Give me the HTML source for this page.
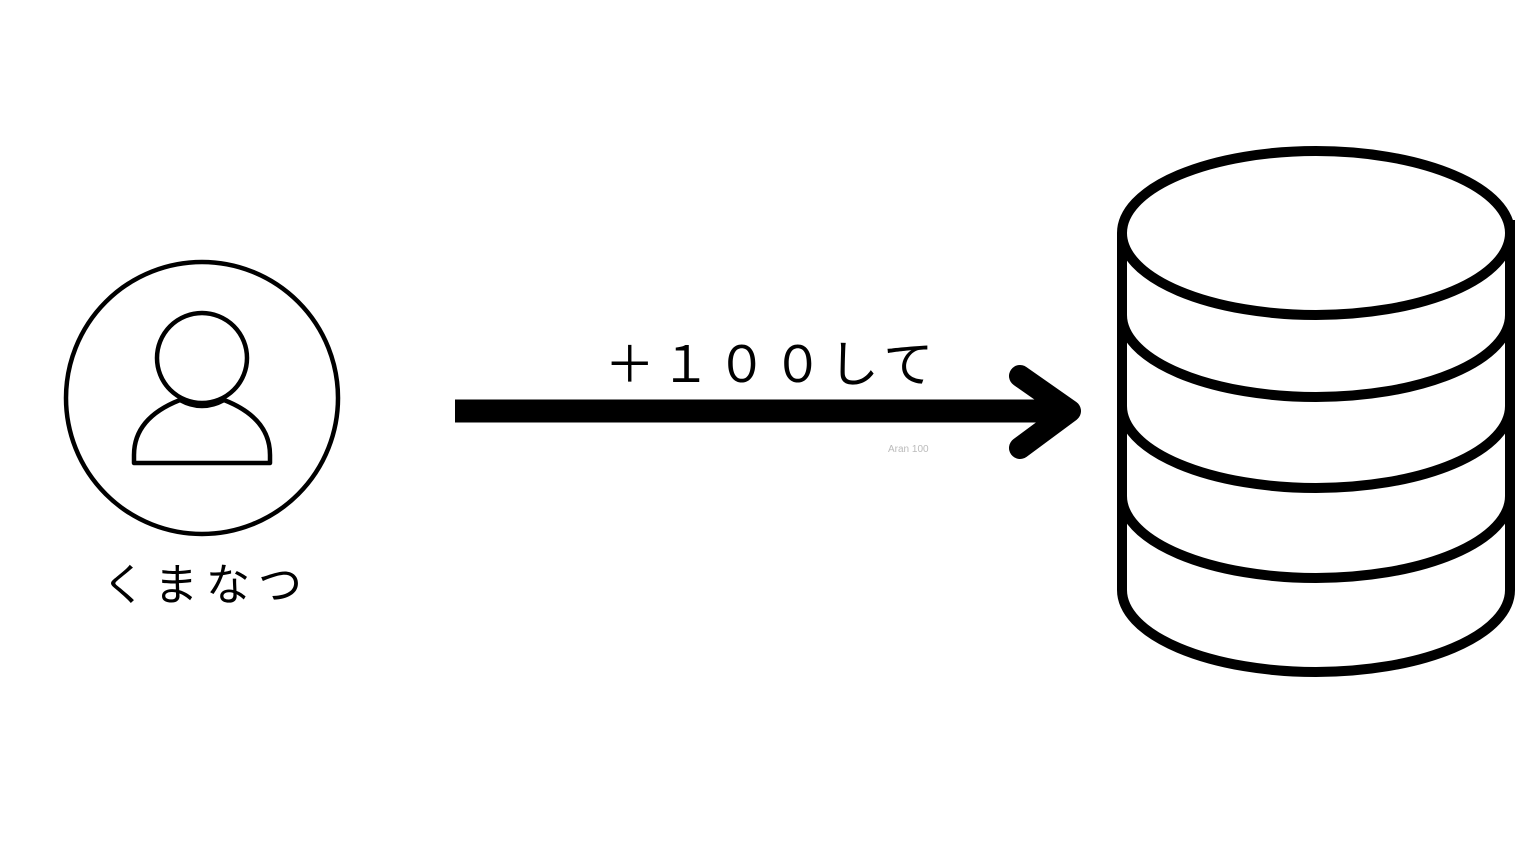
<!DOCTYPE html>
<html><head><meta charset="utf-8"><style>
html,body{margin:0;padding:0;background:#fff;}
svg{display:block}
</style></head><body>
<svg width="1536" height="864" viewBox="0 0 1536 864" xmlns="http://www.w3.org/2000/svg">
<rect width="1536" height="864" fill="#fff"/>
<!-- person -->
<circle cx="202" cy="398" r="136" fill="none" stroke="#000" stroke-width="4.5"/>
<circle cx="202" cy="358" r="45" fill="none" stroke="#000" stroke-width="4.5"/>
<path d="M180 400 Q202 412 224 400 Q270 418 270 455 L270 463 L134 463 L134 455 Q134 418 180 400 Z" fill="none" stroke="#000" stroke-width="4.5" stroke-linejoin="round"/>
<text x="206" y="600" text-anchor="middle" font-family="'Noto Sans CJK JP',sans-serif" font-size="44" letter-spacing="8" fill="#000">くまなつ</text>
<!-- arrow -->
<text x="772" y="382" text-anchor="middle" font-family="'Noto Sans CJK JP',sans-serif" font-size="50" letter-spacing="6" fill="#000">＋１００して</text>
<line x1="455" y1="411" x2="1065" y2="411" stroke="#000" stroke-width="23"/>
<polyline points="1020,376 1070,411 1020,448" fill="none" stroke="#000" stroke-width="22" stroke-linecap="round" stroke-linejoin="round"/>
<text x="888" y="452" font-family="'Liberation Sans',sans-serif" font-size="10" fill="#bbb">Aran 100</text>
<!-- database -->
<g fill="none" stroke="#000" stroke-width="10">
<ellipse cx="1316" cy="233" rx="194" ry="82"/>
<line x1="1122" y1="233" x2="1122" y2="590"/>
<line x1="1510" y1="220" x2="1510" y2="590"/>
<path d="M1122 315 A194 82 0 0 0 1510 315"/>
<path d="M1122 406 A194 82 0 0 0 1510 406"/>
<path d="M1122 496 A194 82 0 0 0 1510 496"/>
<path d="M1122 590 A194 82 0 0 0 1510 590"/>
</g>
</svg>
</body></html>
